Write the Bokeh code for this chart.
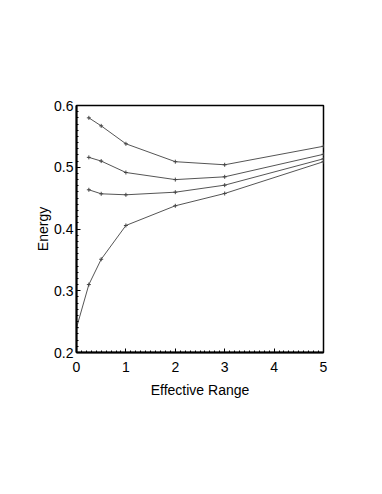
from bokeh.plotting import figure
from bokeh.embed import file_html
from bokeh.resources import INLINE
from bokeh.models import Range1d, FixedTicker

x_short = [0.25, 0.5, 1, 2, 3, 5]
x_long = [0, 0.25, 0.5, 1, 2, 3, 5]
series_a = [0.580, 0.567, 0.538, 0.509, 0.504, 0.534]
series_b = [0.516, 0.510, 0.4915, 0.480, 0.4845, 0.521]
series_c = [0.4635, 0.457, 0.4554, 0.4596, 0.471, 0.5137]
series_d = [0.240, 0.310, 0.351, 0.4057, 0.4376, 0.4575, 0.509]
x_ticks = [0, 1, 2, 3, 4, 5]
y_ticks = [0.2, 0.3, 0.4, 0.5, 0.6]

p = figure(width=374, height=486, output_backend="svg", toolbar_location=None,
           x_range=Range1d(0, 5), y_range=Range1d(0.2, 0.6),
           min_border_left=76, min_border_right=51, min_border_top=105, min_border_bottom=134)
p.grid.visible = False
p.outline_line_color = "black"
p.outline_line_width = 1.5

for xs, ys in [(x_short, series_a), (x_short, series_b), (x_short, series_c), (x_long, series_d)]:
    p.line(xs, ys, line_color="#555555", line_width=1)
    p.scatter(xs, ys, marker="cross", size=4, line_color="#444444", line_width=1)

for ax in [p.xaxis[0], p.yaxis[0]]:
    ax.axis_line_width = 2
    ax.axis_line_color = "black"
    ax.major_tick_in = 4
    ax.major_tick_out = 0
    ax.minor_tick_in = 2
    ax.minor_tick_out = 0
    ax.major_label_text_font = "Liberation Sans"
    ax.major_label_text_font_size = "14px"
    ax.major_label_text_color = "black"
    ax.axis_label_text_font = "Liberation Sans"
    ax.axis_label_text_font_size = "14px"
    ax.axis_label_text_font_style = "normal"
    ax.axis_label_text_color = "black"

p.xaxis.ticker = FixedTicker(ticks=x_ticks, minor_ticks=[i / 10 for i in range(51)])
p.yaxis.ticker = FixedTicker(ticks=y_ticks, minor_ticks=[0.2 + i / 100 for i in range(41)])
p.xaxis.axis_label = "Effective Range"
p.yaxis.axis_label = "Energy"
p.xaxis.major_label_standoff = 9
p.yaxis.major_label_standoff = 3
p.xaxis.axis_label_standoff = 7
p.yaxis.axis_label_standoff = 0

open("out.html", "w").write(file_html(p, INLINE))
